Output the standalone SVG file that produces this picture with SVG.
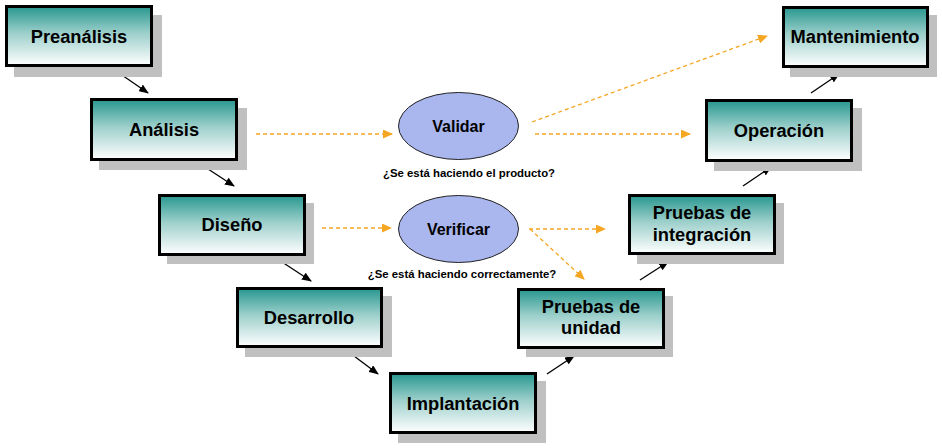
<svg xmlns="http://www.w3.org/2000/svg" width="942" height="448" viewBox="0 0 942 448">
<style>
.shadow{fill:#C0C0C0}
.box{fill:url(#tealGrad);stroke:#000;stroke-width:3}
.lbl{font-family:"Liberation Sans",Arial,sans-serif;font-weight:bold;font-size:18.3px;fill:#000;text-anchor:middle}
.elab{font-family:"Liberation Sans",Arial,sans-serif;font-weight:bold;font-size:16px;fill:#000;text-anchor:middle}
.small{font-family:"Liberation Sans",Arial,sans-serif;font-weight:bold;font-size:11.4px;fill:#000;text-anchor:middle}
.ell{fill:#AAB6EE;stroke:#222;stroke-width:1}
.blk{stroke:#000;stroke-width:1.3;fill:none;marker-end:url(#blkArrow)}
.dash{stroke:#F5A623;stroke-width:1.3;fill:none;stroke-dasharray:4 3;marker-end:url(#orArrow)}
</style>
<defs>
<linearGradient id="tealGrad" x1="0" y1="0" x2="0" y2="1">
<stop offset="0" stop-color="#27978F"/>
<stop offset="0.45" stop-color="#9CCFCB"/>
<stop offset="1" stop-color="#FFFFFF"/>
</linearGradient>
<marker id="blkArrow" markerWidth="10" markerHeight="8" refX="9" refY="4" orient="auto" markerUnits="userSpaceOnUse">
<path d="M0,0 L10,4 L0,8 Z" fill="#000"/>
</marker>
<marker id="orArrow" markerWidth="10" markerHeight="9" refX="9" refY="4.5" orient="auto" markerUnits="userSpaceOnUse">
<path d="M0,0 L10,4.5 L0,9 Z" fill="#F5A623"/>
</marker>
</defs>
<rect width="942" height="448" fill="#FFFFFF"/>

<g id="connectors">
<line class="blk" x1="119" y1="73" x2="148" y2="93"/>
<line class="blk" x1="205" y1="167" x2="234" y2="186"/>
<line class="blk" x1="282" y1="262" x2="311" y2="281"/>
<line class="blk" x1="350" y1="353" x2="378" y2="374"/>
<line class="blk" x1="547" y1="374" x2="574" y2="356"/>
<line class="blk" x1="640" y1="280" x2="668" y2="262"/>
<line class="blk" x1="743" y1="186" x2="771" y2="167"/>
<line class="blk" x1="811" y1="93" x2="839" y2="74"/>
<line class="dash" x1="256" y1="134" x2="392" y2="134"/>
<line class="dash" x1="535" y1="134" x2="690" y2="134"/>
<line class="dash" x1="532" y1="122" x2="767" y2="36"/>
<line class="dash" x1="322" y1="228" x2="391" y2="228"/>
<line class="dash" x1="529" y1="229" x2="605" y2="229"/>
<line class="dash" x1="530" y1="229" x2="584" y2="279"/>
</g>

<g id="preanalisis">
<rect class="shadow" x="14" y="15" width="148" height="62"/>
<rect class="box" x="6.5" y="6.5" width="145" height="59"/>
<text class="lbl" x="79" y="43">Preanálisis</text>
</g>
<g id="analisis">
<rect class="shadow" x="99" y="108" width="148" height="62"/>
<rect class="box" x="91.5" y="99.5" width="145" height="60"/>
<text class="lbl" x="164" y="136">Análisis</text>
</g>
<g id="diseno">
<rect class="shadow" x="167" y="203" width="147" height="61"/>
<rect class="box" x="159.5" y="195.5" width="145" height="59"/>
<text class="lbl" x="232" y="231">Diseño</text>
</g>
<g id="desarrollo">
<rect class="shadow" x="245" y="296" width="147" height="61"/>
<rect class="box" x="237.5" y="288.5" width="144" height="58"/>
<text class="lbl" x="309" y="324">Desarrollo</text>
</g>
<g id="implantacion">
<rect class="shadow" x="398" y="381" width="148" height="62"/>
<rect class="box" x="390.5" y="373.5" width="145" height="59"/>
<text class="lbl" x="463" y="410">Implantación</text>
</g>
<g id="pruebas-unidad">
<rect class="shadow" x="526" y="296" width="147" height="61"/>
<rect class="box" x="518.5" y="289.5" width="145" height="58"/>
<text class="lbl" x="591" y="313">Pruebas de</text>
<text class="lbl" x="591" y="334">unidad</text>
</g>
<g id="pruebas-integracion">
<rect class="shadow" x="637" y="203" width="147" height="61"/>
<rect class="box" x="629.5" y="195.5" width="145" height="58"/>
<text class="lbl" x="702" y="219">Pruebas de</text>
<text class="lbl" x="702" y="241">integración</text>
</g>
<g id="operacion">
<rect class="shadow" x="714" y="108" width="148" height="63"/>
<rect class="box" x="706.5" y="100.5" width="145" height="60"/>
<text class="lbl" x="779" y="137">Operación</text>
</g>
<g id="mantenimiento">
<rect class="shadow" x="790" y="15" width="147" height="62"/>
<rect class="box" x="783.5" y="7.5" width="144" height="59"/>
<text class="lbl" x="855" y="43">Mantenimiento</text>
</g>

<g id="validar">
<ellipse class="ell" cx="458.5" cy="126" rx="60" ry="33.5"/>
<text class="elab" x="458.5" y="132">Validar</text>
<text class="small" x="469" y="177">¿Se está haciendo el producto?</text>
</g>
<g id="verificar">
<ellipse class="ell" cx="458.5" cy="229" rx="60" ry="33.5"/>
<text class="elab" x="458.5" y="235">Verificar</text>
<text class="small" x="462" y="278">¿Se está haciendo correctamente?</text>
</g>
</svg>
